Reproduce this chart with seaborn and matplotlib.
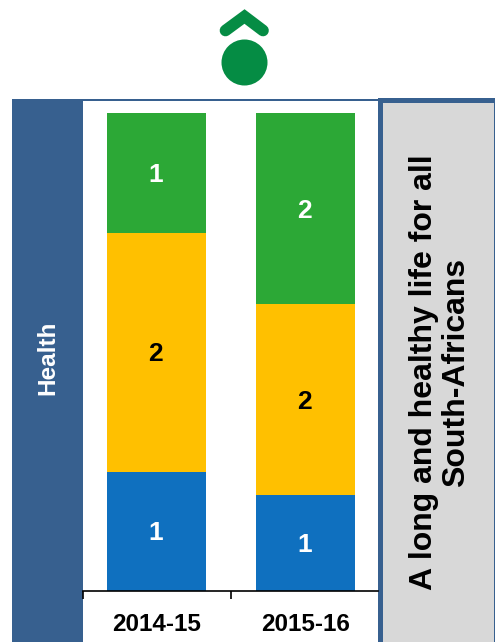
import matplotlib
matplotlib.use("Agg")
import matplotlib.pyplot as plt
from matplotlib.lines import Line2D
from matplotlib.patches import Rectangle, Circle
import numpy as np
import seaborn as sns

periods = ["2014-15", "2015-16"]
blue_counts = [1, 1]
yellow_counts = [2, 2]
green_counts = [1, 2]
blue_color = "#0f70bf"
yellow_color = "#ffc000"
green_color = "#2ca836"
side_label = "Health"
goal_label = "A long and healthy life for all\nSouth-Africans"

W, H = 495, 642
sns.set_theme(style="white")
plt.rcParams["font.family"] = ["Liberation Sans", "DejaVu Sans"]
fig = plt.figure(figsize=(W / 100, H / 100), dpi=100, facecolor="white")

# page-level decoration in pixel coordinates
bg = fig.add_axes([0, 0, 1, 1], zorder=0)
bg.set_xlim(0, W); bg.set_ylim(H, 0); bg.axis("off")
navy = "#37608f"
bg.add_patch(Rectangle((12, 99), 71, H - 99, fc=navy, ec="none"))
bg.add_patch(Rectangle((83, 98.5), 296, 2, fc=navy, ec="none"))
bg.add_patch(Rectangle((378, 98), 117, H - 98, fc=navy, ec="none"))
bg.add_patch(Rectangle((383, 103), 111, H - 103, fc="#d8d8d8", ec="none"))
icon = "#058c44"
bg.add_patch(Circle((244.5, 62.5), 23, fc=icon, ec="none"))
bg.add_line(Line2D([225.5, 244.5, 263], [30.5, 16.5, 30.5], color=icon, lw=8.4,
                   solid_capstyle="round", solid_joinstyle="miter"))
bg.text(48, 358, side_label, rotation=90, color="white", fontsize=17.5,
        fontweight="bold", ha="center", va="center")
bg.text(440, 372.5, goal_label, rotation=90, color="black", fontsize=23,
        fontweight="bold", ha="center", va="center", linespacing=1.1)

# chart axes
x0, x1, ytop, ybot = 83, 378, 100, 591
ax = fig.add_axes([x0 / W, 1 - ybot / H, (x1 - x0) / W, (ybot - ytop) / H], zorder=1)
ax.patch.set_alpha(0)

blue = np.array(blue_counts, float)
yellow = np.array(yellow_counts, float)
green = np.array(green_counts, float)
total = blue + yellow + green
blue_s, yellow_s, green_s = blue / total * 100, yellow / total * 100, green / total * 100

layers = [(blue_s, blue_counts, np.zeros(2), blue_color, "white"),
          (yellow_s, yellow_counts, blue_s, yellow_color, "black"),
          (green_s, green_counts, blue_s + yellow_s, green_color, "white")]
for share, counts, base, col, tc in layers:
    sns.barplot(x=periods, y=share, bottom=base, color=col, saturation=1,
                width=0.664, ax=ax, edgecolor="none")
    for i, (s, c, b) in enumerate(zip(share, counts, base)):
        ax.annotate(str(c), (i, b + s / 2), xytext=(-0.5, -1.5), textcoords="offset points",
                    ha="center", va="center", color=tc, fontsize=19, fontweight="bold")

left, right = -0.493, 1.487
ax.set_xlim(left, right)
ax.set_ylim(0, 100 * (ybot - ytop) / (ybot - 113))
ax.set_yticks([])
ax.set_ylabel("")
for s in ["top", "left", "right"]:
    ax.spines[s].set_visible(False)
ax.spines["bottom"].set_color("black")
ax.spines["bottom"].set_linewidth(1.2)
ax.set_xticks([left, 0.5], minor=False)
ax.set_xticklabels([])
ax.tick_params(axis="x", which="major", length=6, width=1.2, color="black", bottom=True)
ax.set_xticks([0, 1], labels=periods, minor=True)
ax.tick_params(axis="x", which="minor", length=0, pad=16, labelsize=17.5)
for t in ax.get_xticklabels(minor=True):
    t.set_fontweight("bold")
    t.set_color("black")

fig.savefig("out.png", dpi=100)
